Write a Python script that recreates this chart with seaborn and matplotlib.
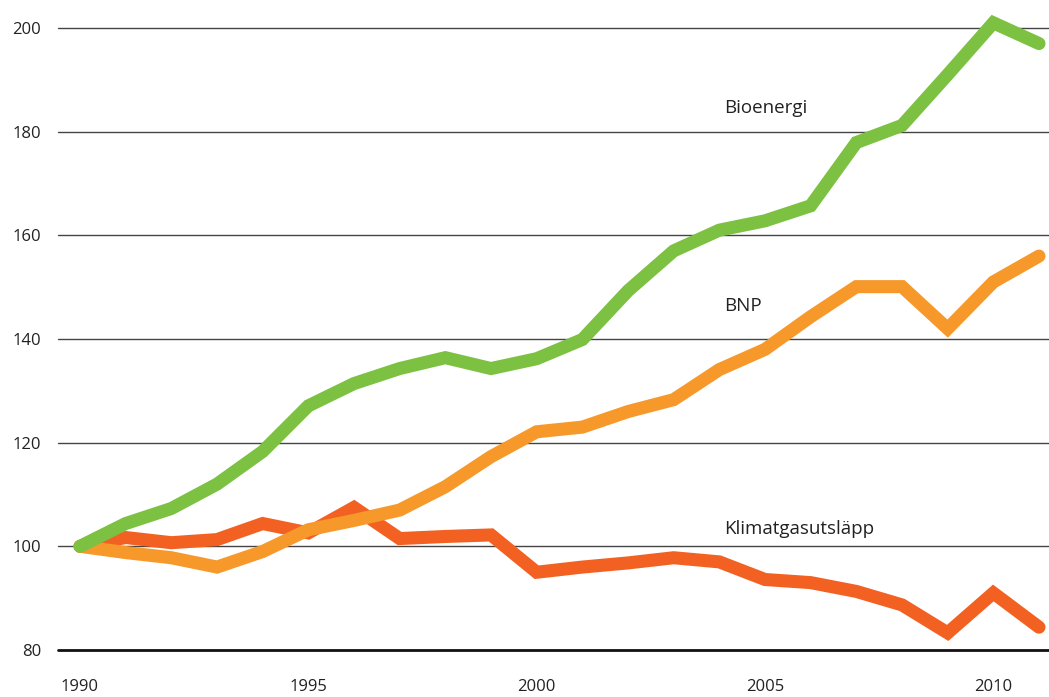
import pandas as pd
import matplotlib
matplotlib.use('Agg')
import matplotlib.pyplot as plt
import seaborn as sns

years = list(range(1990, 2012))

bioenergi = [100, 104.4, 107.3, 112, 118.3, 127.1, 131.4, 134.3, 136.4, 134.3, 136.2,
             139.9, 149.3, 157, 161, 162.8, 165.7, 177.9, 181.2, 191, 201, 197]
bnp = [100, 98.8, 97.8, 96, 99, 103.2, 105, 107, 111.5, 117.3, 122.1,
       123, 126, 128.3, 134.1, 138, 144.3, 150.1, 150.1, 142, 151, 156]
klimat = [100, 101.7, 100.7, 101.3, 104.4, 102.6, 107.5, 101.5, 101.9, 102.2, 95,
          96, 96.8, 97.8, 97, 93.6, 93, 91.3, 88.7, 83.3, 91, 84.4]

series_names = ['Klimatgasutsläpp', 'BNP', 'Bioenergi']
colors = {'Klimatgasutsläpp': '#f26122', 'BNP': '#f7982a', 'Bioenergi': '#7dc142'}
label_pos = {'Bioenergi': 108, 'BNP': 306, 'Klimatgasutsläpp': 529}

df = pd.DataFrame({
    'År': years * 3,
    'Index': klimat + bnp + bioenergi,
    'Serie': [series_names[0]] * 22 + [series_names[1]] * 22 + [series_names[2]] * 22,
})

sns.set_style('white')
plt.rcParams['font.family'] = ['Open Sans', 'DejaVu Sans']

fig = plt.figure(figsize=(10.49, 6.97), dpi=100)
ax = fig.add_axes([58 / 1049, 47 / 697, 1 - 58 / 1049, (650 - 28) / 697])

for y in [100, 120, 140, 160, 180, 200]:
    ax.axhline(y, color='#444444', lw=1.0, zorder=1)
ax.axhline(80, color='#111111', lw=2.0, zorder=1)

sns.lineplot(data=df, x='År', y='Index', hue='Serie', palette=colors,
             hue_order=series_names, lw=9.4, ax=ax, legend=False, zorder=3)
for line in ax.get_lines():
    line.set_solid_capstyle('round')
    line.set_solid_joinstyle('miter')
    line.set_clip_on(False)

ax.set_xlim(1990 - 22 / 45.65, 2011 + 10 / 45.65)
ax.set_ylim(80, 200)
ax.set_yticks([80, 100, 120, 140, 160, 180, 200])
ax.set_xticks([1990, 1995, 2000, 2005, 2010])
ax.tick_params(axis='y', length=0, pad=12, labelsize=12, colors='#222222')
ax.tick_params(axis='x', length=0, pad=21, labelsize=12, colors='#222222')
ax.set_xlabel('')
ax.set_ylabel('')
for s in ax.spines.values():
    s.set_visible(False)

# series labels, placed in figure pixels
for name, ypix in label_pos.items():
    fig.text(724 / 1049, 1 - ypix / 697, name, fontsize=13.5, color='#222222',
             ha='left', va='center')

fig.savefig('out.png', dpi=100)
